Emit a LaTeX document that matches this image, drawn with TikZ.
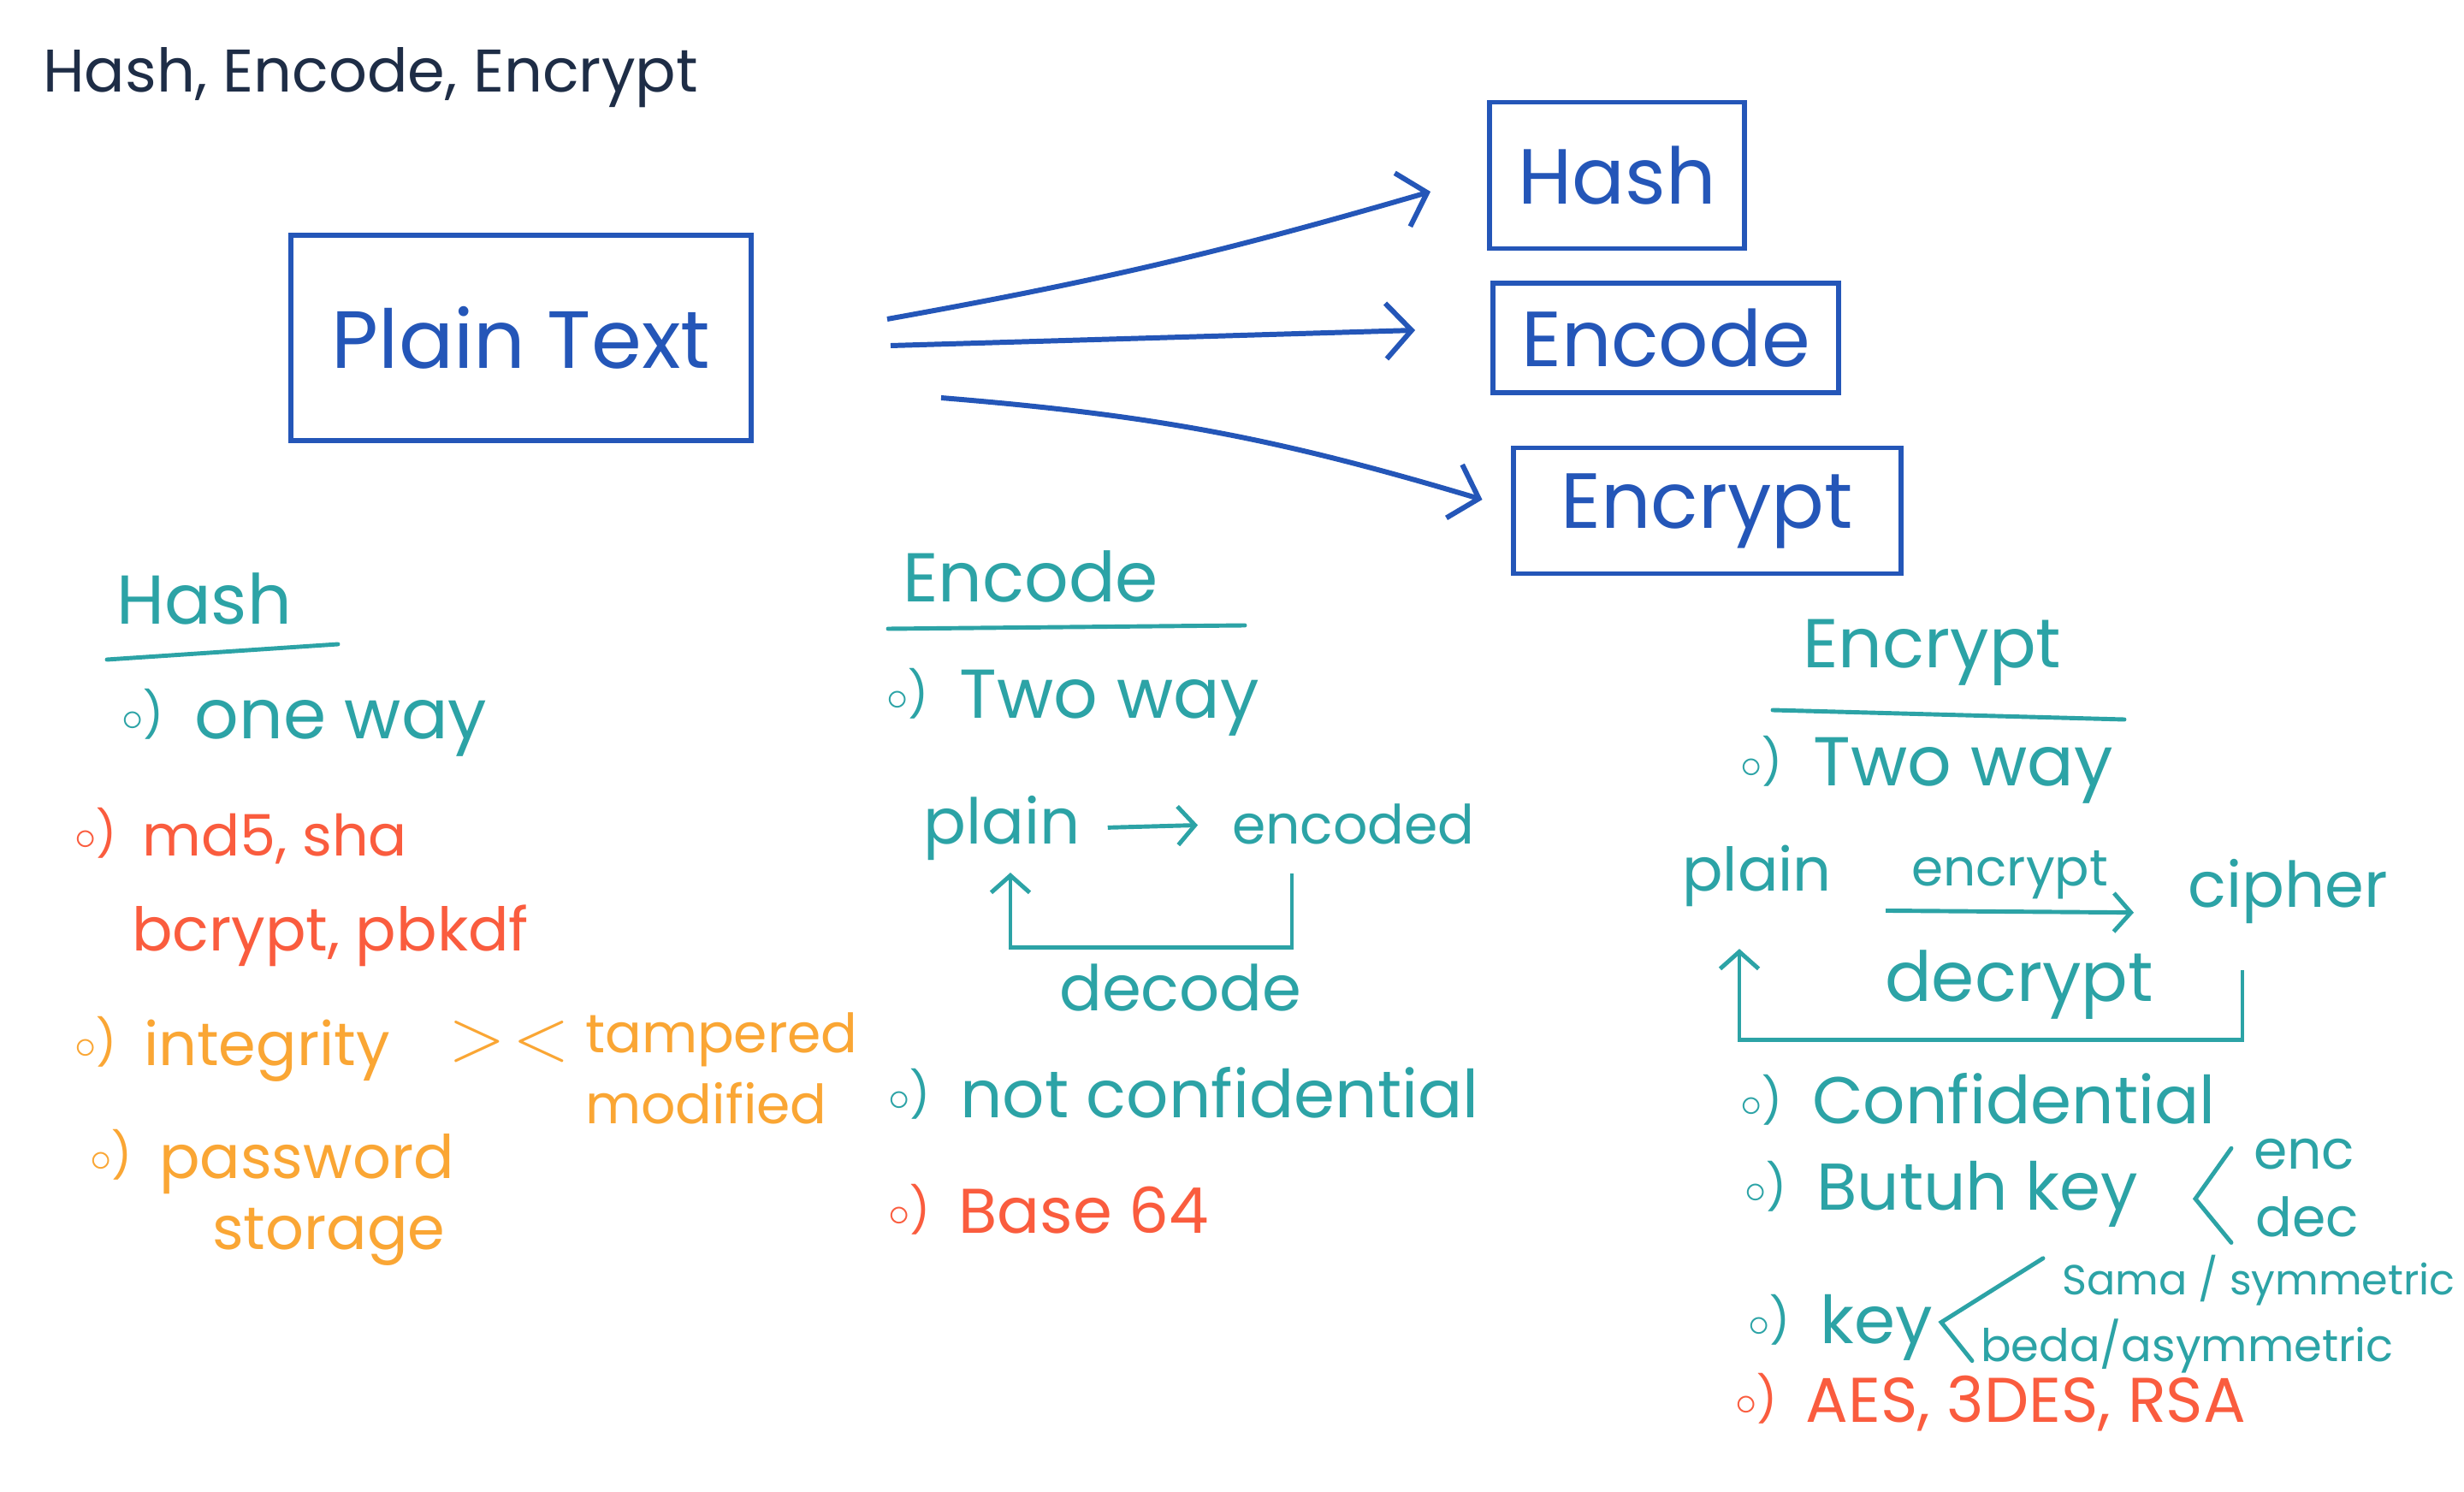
\documentclass[tikz,border=0pt]{standalone}
\usepackage{fontspec}
\setmainfont{Poppins}
\usepackage{tikz}
\usetikzlibrary{arrows.meta}
\definecolor{tinta}{RGB}{30,45,70}
\definecolor{pena}{RGB}{36,86,184}
\definecolor{tosca}{RGB}{44,163,166}
\definecolor{merah}{RGB}{250,92,62}
\definecolor{jingga}{RGB}{250,166,52}
\newcommand{\sz}[1]{\fontsize{#1}{#1}\selectfont}
\newcommand{\bul}{\raisebox{0.2ex}{\sz{15}$\circ$)}\hspace{0.45em}}
\tikzset{mybox/.style = {draw=pena, line width=1.7pt, text=pena, font=\sz{26}}}
\tikzset{mytext/.style = {anchor=mid west, inner sep=1pt}}
\tikzset{mytitle/.style = {mytext, text=tinta, font=\sz{20}}}
\tikzset{myteal/.style = {mytext, text=tosca, font=\sz{23}}}
\tikzset{myred/.style = {mytext, text=merah, font=\sz{21}}}
\tikzset{myorange/.style = {mytext, text=jingga, font=\sz{20}}}
\tikzset{myarrow/.style = {-{Straight Barb[length=3mm, width=6.5mm]}, line width=1.7pt, draw=pena}}
\tikzset{tealarrow/.style = {-{Straight Barb[length=2mm, width=4.5mm]}, line width=1.4pt, draw=tosca}}
\tikzset{tealline/.style = {line width=1.4pt, draw=tosca, line cap=round}}

\begin{document}
\begin{tikzpicture}
    \useasboundingbox (0,0) rectangle (28.8,-17.44);
    \fill[white] (0,0) rectangle (28.8,-17.44);

    \node[mytitle] (T) at (0.46,-0.98) {Hash, Encode, Encrypt};

    \node[mybox, minimum width=5.38cm, minimum height=2.40cm, font=\sz{27}] (A) at (6.09,-3.95) {Plain Text};
    \node[mybox, minimum width=2.98cm, minimum height=1.71cm] (B) at (18.90,-2.05) {Hash};
    \node[mybox, minimum width=4.04cm, minimum height=1.28cm] (C) at (19.47,-3.95) {Encode};
    \node[mybox, minimum width=4.53cm, minimum height=1.47cm] (D) at (19.95,-5.97) {Encrypt};

    \draw[myarrow] ([xshift=1.56cm, yshift=2.2mm]A.east) to[bend right=3] ([xshift=-0.66cm, yshift=-1.9mm]B.west);
    \draw[myarrow] ([xshift=1.60cm, yshift=-0.9mm]A.east) -- ([xshift=-0.88cm, yshift=0.9mm]C.west);
    \draw[myarrow] ([xshift=2.19cm, yshift=-7mm]A.east) to[bend left=6] ([xshift=-0.33cm, yshift=1.3mm]D.west);

    \node[myteal] (H1) at (1.32,-7.20) {Hash};
    \draw[tealline] (1.25,-7.71) -- (3.95,-7.53);
    \node[myteal] (H2) at (1.38,-8.54) {\bul one way};
    \node[myred, font=\sz{19}] (H3) at (0.83,-9.91) {\bul md5, sha};
    \node[myred, font=\sz{20}] (H4) at (1.50,-11.02) {bcrypt, pbkdf};
    \node[myorange] (H5) at (0.83,-12.36) {\bul integrity};
    \node[myorange, font=\sz{24}] (H6) at (5.20,-12.30) {$>$\kern0.1em$<$};
    \node[myorange, font=\sz{18}] (H7) at (6.80,-12.21) {tampered};
    \node[myorange, font=\sz{18}] (H8) at (6.80,-13.04) {modified};
    \node[myorange] (H9) at (1.01,-13.68) {\bul password};
    \node[myorange] (H10) at (2.44,-14.51) {storage};

    \node[myteal] (E1) at (10.51,-6.94) {Encode};
    \draw[tealline] (10.38,-7.35) -- (14.55,-7.31);
    \node[myteal] (E2) at (10.32,-8.30) {\bul Two way};
    \node[myteal, font=\sz{21}] (E3) at (10.75,-9.77) {plain};
    \node[myteal, font=\sz{18}] (E4) at (14.36,-9.77) {encoded};
    \node[myteal, font=\sz{21}] (E5) at (12.34,-11.72) {decode};
    \node[myteal, font=\sz{22}] (E6) at (10.34,-12.97) {\bul not confidential};
    \node[myred] (E7) at (10.34,-14.32) {\bul Base 64};

    \draw[tealarrow, shorten <=2.8mm, shorten >=3.6mm] (E3.east) -- (E4.west);
    \coordinate (e4) at ([xshift=7.4mm, yshift=-3mm]E4.south west);
    \coordinate (e5) at ([yshift=1.5mm]E5.north);
    \draw[tealarrow, shorten >=1mm] (e4) -- (e4 |- e5) -| ([xshift=10.6mm]E3.south west);

    \node[myteal] (K1) at (21.03,-7.71) {Encrypt};
    \draw[tealline] (20.72,-8.30) -- (24.83,-8.41);
    \node[myteal] (K2) at (20.30,-9.09) {\bul Two way};
    \node[myteal, font=\sz{20}] (K3) at (19.62,-10.32) {plain};
    \node[myteal, font=\sz{21}] (K4) at (25.53,-10.51) {cipher};
    \draw[tealarrow, shorten <=5.9mm, shorten >=5.9mm] ([yshift=-4mm]K3.east) -- node[above, text=tosca, font=\sz{17}] (K5) {encrypt} ([yshift=-2.5mm]K4.west);
    \node[myteal] (K6) at (21.99,-11.61) {decrypt};
    \coordinate (k4) at ([xshift=6.8mm, yshift=-5mm]K4.south west);
    \coordinate (k6) at ([yshift=-2mm]K6.south);
    \draw[tealarrow, shorten >=4.5mm] (k4) -- (k4 |- k6) -| ([xshift=7.1mm]K3.south west);

    \node[myteal, font=\sz{22}] (K7) at (20.30,-13.04) {\bul Confidential};
    \node[myteal, font=\sz{22}] (K8) at (20.35,-14.05) {\bul Butuh key};
    \node[myteal, font=\sz{18}] (K9) at (26.30,-13.57) {enc};
    \node[myteal, font=\sz{18}] (K10) at (26.32,-14.36) {dec};
    \draw[tealline] ([xshift=-2.2mm, yshift=0.7mm]K9.west) -- ([xshift=-6.4mm, yshift=-5.2mm]K9.west) -- ([xshift=-2.4mm, yshift=-3mm]K10.west);

    \node[myteal, font=\sz{22}] (K11) at (20.39,-15.61) {\bul key};
    \node[myteal, font=\sz{14}] (K12) at (24.06,-15.04) {Sama / symmetric};
    \node[myteal, font=\sz{15}] (K13) at (23.11,-15.82) {beda/asymmetric};
    \draw[tealline] ([xshift=-1.8mm, yshift=2.6mm]K12.west) -- ([xshift=-4.2mm, yshift=2.8mm]K13.west) -- ([xshift=-0.6mm, yshift=-1.7mm]K13.west);
    \node[myred] (K14) at (20.24,-16.53) {\bul AES, 3DES, RSA};

\end{tikzpicture}
\end{document}
